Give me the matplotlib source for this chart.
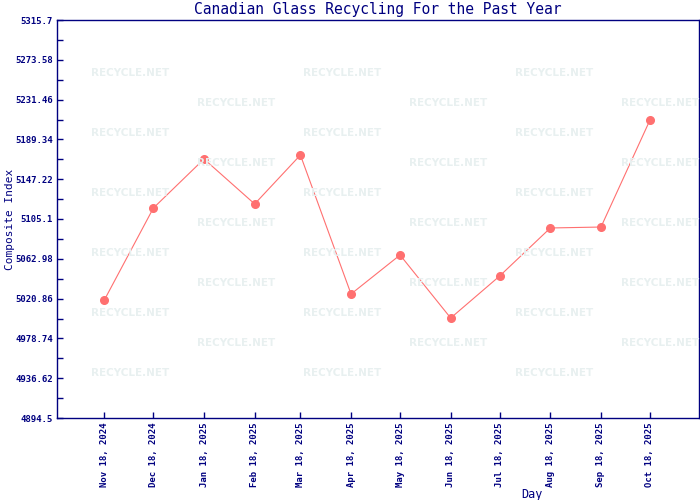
import matplotlib
matplotlib.use('Agg')
import matplotlib.pyplot as plt
import numpy as np
from datetime import datetime

dates = ['2024-11-18', '2024-12-18', '2025-01-18', '2025-02-18', '2025-03-18', '2025-04-18',
         '2025-05-18', '2025-06-18', '2025-07-18', '2025-08-18', '2025-09-18', '2025-10-18']
values = [5019.4, 5116.7, 5168.6, 5121.0, 5172.8, 5025.7,
          5067.0, 5000.3, 5044.8, 5095.6, 5096.6, 5209.9]

y_min, y_max = 4894.5, 5315.7
navy = '#000080'

x = [datetime.strptime(d, '%Y-%m-%d') for d in dates]

fig = plt.figure(figsize=(7, 5), dpi=100)
ax = fig.add_axes([57 / 700, 82 / 500, 642 / 700, 398 / 500])

# faint watermark tiles
for r in range(11):
    ypix = 73 + 30 * r
    xs = [130, 342, 554] if r % 2 == 0 else [236, 448, 660]
    for xp in xs:
        fig.text(xp / 700, 1 - ypix / 500, 'RECYCLE.NET', color='#e8f0f0', fontsize=7.5,
                 fontweight='bold', family='DejaVu Sans', ha='center', va='center', zorder=0)

ax.set_facecolor('none')
ax.plot(x, values, color='#ff7070', lw=0.8, marker='o', markersize=5.5, zorder=3)

ax.set_xlim(datetime(2024, 10, 20), datetime(2025, 11, 17))
ax.set_ylim(y_min, y_max)

ax.set_xticks(x)
ax.set_xticklabels([d.strftime('%b %d, %Y') for d in x], rotation=90,
                   family='DejaVu Sans Mono', fontsize=6.5, color=navy, fontweight='bold')

yt = np.linspace(y_min, y_max, 11)
ax.set_yticks(yt)
ax.set_yticklabels([f'{v:.2f}'.rstrip('0').rstrip('.') for v in yt],
                   family='DejaVu Sans Mono', fontsize=6.5, color=navy, fontweight='bold')
ax.set_yticks(np.linspace(y_min, y_max, 21), minor=True)

ax.tick_params(axis='both', which='both', direction='in', length=4, width=1, color=navy, pad=3)

for s in ax.spines.values():
    s.set_color(navy)
    s.set_linewidth(1)

ax.set_title('Canadian Glass Recycling For the Past Year', family='DejaVu Sans Mono',
             fontsize=10.5, color=navy, pad=4)
ax.set_ylabel('Composite Index', family='DejaVu Sans Mono', fontsize=8, color=navy)
ax.yaxis.set_label_coords(-0.065, 0.5)
ax.set_xlabel('Day', family='DejaVu Sans Mono', fontsize=8.5, color=navy)
ax.xaxis.set_label_coords((532 - 57) / 642, -0.176)

fig.savefig('out.png', dpi=100)
